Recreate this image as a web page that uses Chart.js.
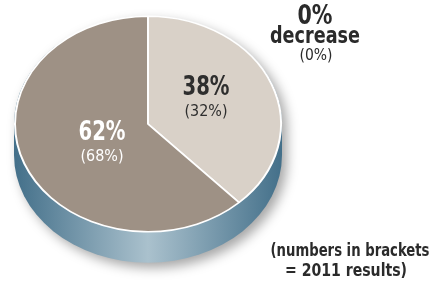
<!DOCTYPE html>
<html>
<head>
<meta charset="utf-8">
<script src="https://cdn.jsdelivr.net/npm/chart.js@4"></script>
<style>
  html, body { margin: 0; padding: 0; background: #fff; }
  #wrap { width: 431px; height: 281px; position: relative; }
</style>
</head>
<body>
<div id="wrap"><canvas id="pieChart" width="431" height="281"></canvas></div>
<script>
const categories = ['Group A', 'Group B'];
const values2012 = [38, 62];
const values2011 = [32, 68];
const changeNow = '0%';
const changeBefore = '(0%)';
const noteLines = ['(numbers in brackets', '= 2011 results)'];

const sliceColors = ['#d9d1c8', '#9e9185'];
const labelColors = ['#2e2e2e', '#ffffff'];
const font = '"Liberation Sans Narrow", "DejaVu Sans Condensed", "Roboto", sans-serif';

// flattening of the pie and thickness of the base
const tilt = 0.81;
const depth = 31;
const faceCenterY = 124;
// where the labels sit, relative to the pie centre (after flattening)
const labelOffsets = [[58, -29], [-46, 16]];

const pie3d = {
    id: 'pie3d',
    beforeDatasetsDraw(chart) {
        const ctx = chart.ctx;
        const arc = chart.getDatasetMeta(0).data[0];
        const x = arc.x, y = arc.y, r = arc.outerRadius;
        const ry = r * tilt;
        const cy = faceCenterY;

        ctx.save();
        const g = ctx.createLinearGradient(x - r, 0, x + r, 0);
        g.addColorStop(0, '#44708a');
        g.addColorStop(0.5, '#aac1cd');
        g.addColorStop(1, '#44708a');
        ctx.fillStyle = g;
        ctx.shadowColor = 'rgba(0,0,0,0.35)';
        ctx.shadowBlur = 12;
        ctx.shadowOffsetX = 5;
        ctx.shadowOffsetY = 5;
        ctx.beginPath();
        ctx.moveTo(x - r - 1, cy);
        ctx.lineTo(x - r - 1, cy + depth);
        ctx.ellipse(x, cy + depth, r + 1, ry, 0, Math.PI, 0, true);
        ctx.lineTo(x + r + 1, cy);
        ctx.ellipse(x, cy, r + 1, ry, 0, 0, Math.PI, true);
        ctx.closePath();
        ctx.fill();
        ctx.restore();

        ctx.save();
        ctx.translate(x, cy);
        ctx.scale(1, tilt);
        ctx.translate(-x, -y);
    },
    afterDatasetsDraw(chart) {
        const ctx = chart.ctx;
        ctx.restore();

        const arc = chart.getDatasetMeta(0).data[0];
        const x = arc.x;
        const cy = faceCenterY;
        ctx.save();
        ctx.textAlign = 'center';
        ctx.textBaseline = 'alphabetic';
        values2012.forEach((v, i) => {
            const lx = x + labelOffsets[i][0];
            const ly = cy + labelOffsets[i][1];
            ctx.fillStyle = labelColors[i];
            ctx.font = 'bold 26px ' + font;
            ctx.fillText(v + '%', lx, ly, 47);
            ctx.font = '16px ' + font;
            ctx.fillText('(' + values2011[i] + '%)', lx, ly + 21, 43);
        });

        ctx.fillStyle = '#2a2a2a';
        ctx.font = 'bold 27px ' + font;
        ctx.fillText(changeNow, 315, 24, 35);
        ctx.font = 'bold 23px ' + font;
        ctx.fillText('decrease', 315, 43, 90);
        ctx.font = '16px ' + font;
        ctx.fillText(changeBefore, 316, 60, 33);

        ctx.font = 'bold 18px ' + font;
        ctx.fillText(noteLines[0], 350, 256, 159);
        ctx.fillText(noteLines[1], 346, 276, 122);
        ctx.restore();
    }
};

new Chart(document.getElementById('pieChart'), {
    type: 'pie',
    data: {
        labels: categories,
        datasets: [{
            data: values2012,
            backgroundColor: sliceColors,
            borderColor: '#ffffff',
            borderWidth: 2
        }]
    },
    options: {
        responsive: false,
        animation: false,
        layout: { padding: { left: 14, right: 149, top: 2, bottom: 11 } },
        plugins: {
            legend: { display: false },
            tooltip: { enabled: false }
        }
    },
    plugins: [pie3d]
});
</script>
</body>
</html>
